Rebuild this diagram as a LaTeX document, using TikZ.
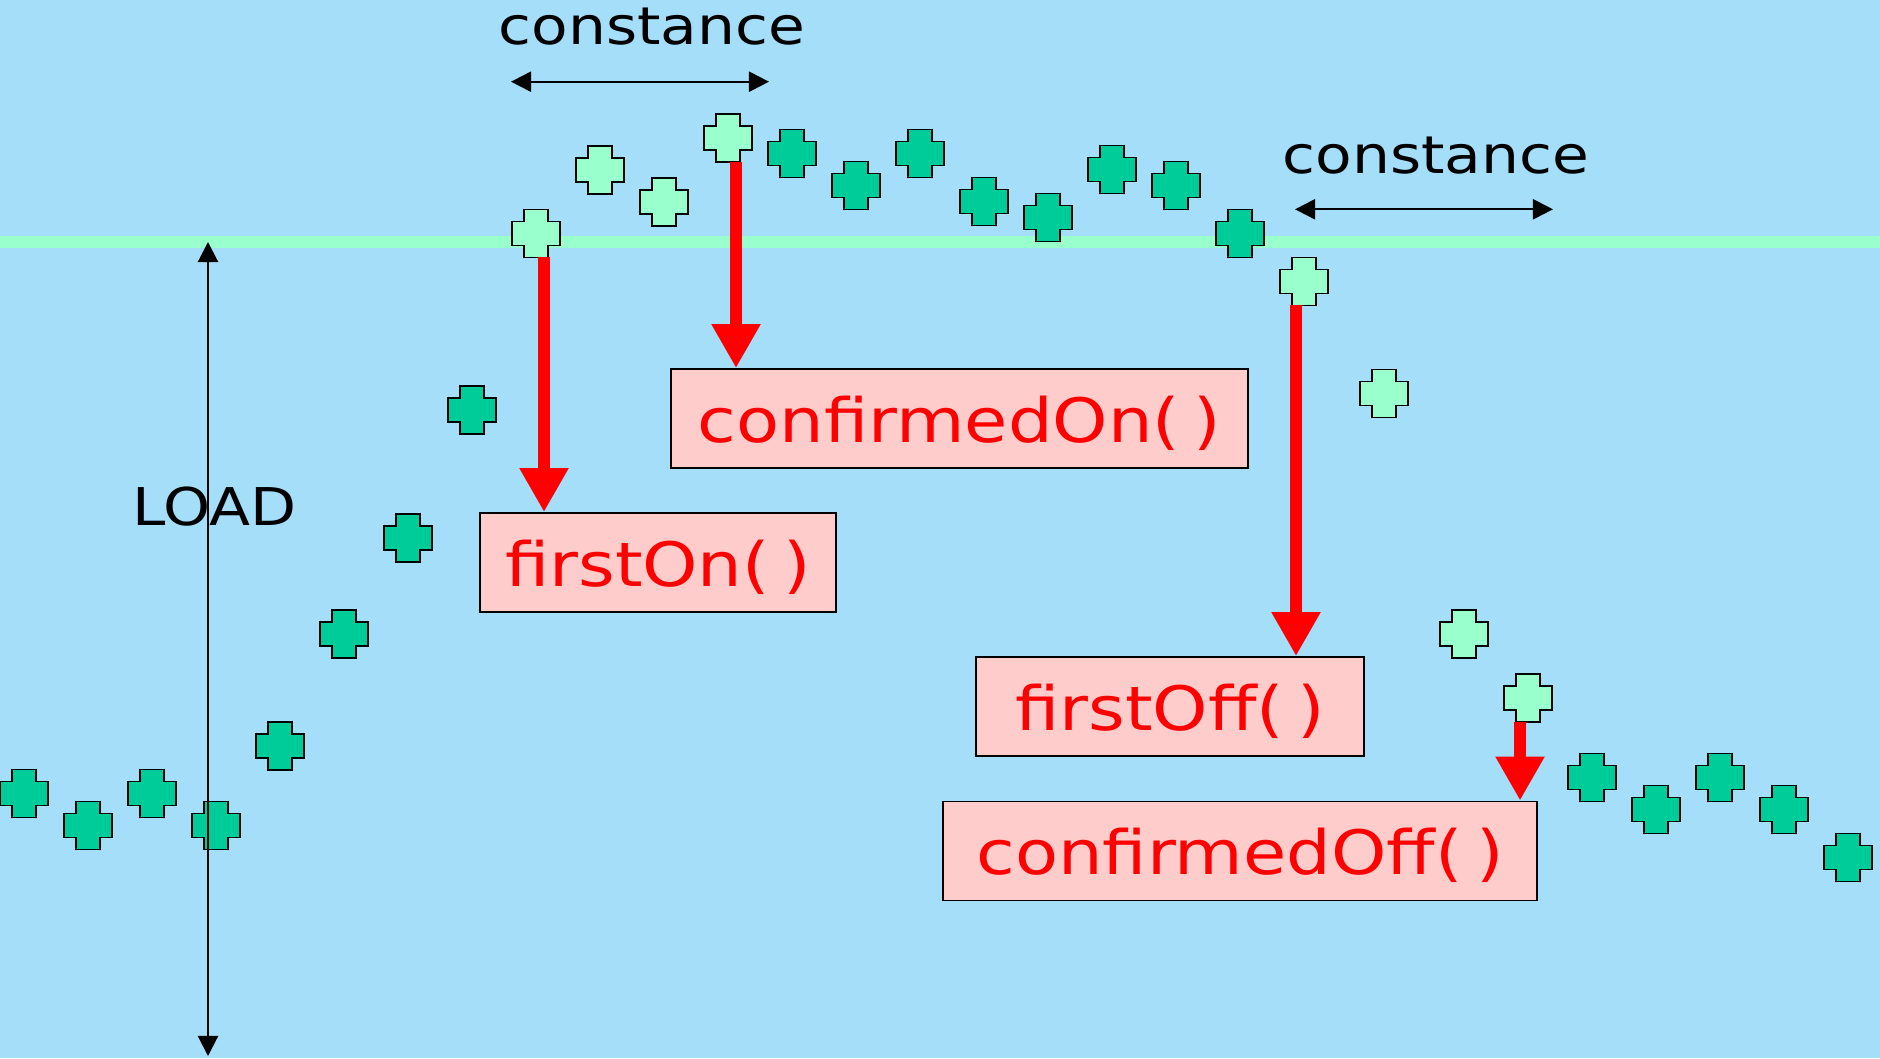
\documentclass[tikz,border=0pt]{standalone}
\usepackage{fontspec}
\setmainfont{DejaVu Sans}[FakeStretch=1.15,WordSpace=0.6]
\usepackage{tikz}
\usetikzlibrary{arrows.meta}

\definecolor{slide}{HTML}{A4DEF9}
\definecolor{mint}{HTML}{99FFCC}
\definecolor{jade}{HTML}{00CC99}
\definecolor{blush}{HTML}{FFCCCC}

\tikzset{
  pics/sample/.style={code={
    \draw[pic actions] (-12,-24) -- (12,-24) -- (12,-12) -- (24,-12) -- (24,12)
      -- (12,12) -- (12,24) -- (-12,24) -- (-12,12) -- (-24,12) -- (-24,-12)
      -- (-12,-12) -- cycle;}}
}

\begin{document}
\begin{tikzpicture}[x=0.01cm, y=-0.01cm,
  plain/.style={fill=jade, draw=black, line width=0.55pt},
  marked/.style={fill=mint, draw=black, line width=0.55pt},
  call/.style={draw=black, line width=0.5pt, fill=blush, text=red, minimum height=0.99cm,
    inner sep=0pt, text height=15.7pt, font=\fontsize{17.4}{21}\selectfont},
  lab/.style={font=\fontsize{14.8}{18}\selectfont, anchor=base, inner sep=0pt},
  arr/.style={{Triangle[width=5.7pt,length=5.7pt]}-{Triangle[width=5.7pt,length=5.7pt]}, line width=0.6pt},
  fire/.style={-{Triangle[width=13.1pt,length=12.5pt]}, red, line width=3.4pt}
]
% slide and threshold band
\fill[slide] (0,0) rectangle (1880,1058);
\useasboundingbox (0,0) rectangle (1880,1058);
\fill[mint] (0,236) rectangle (1880,248);

% load samples
\foreach \i/\px/\py/\kind in {1/24/793.5/plain, 2/88/825.5/plain, 3/152/793.5/plain,
  4/216/825.5/plain, 5/280/746/plain, 6/344/634/plain, 7/408/538/plain, 8/472/410/plain,
  9/536/233.5/marked, 10/600/170/marked, 11/664/202/marked, 12/728/138/marked,
  13/792/153.5/plain, 14/856/185.5/plain, 15/920/153.5/plain, 16/984/201.5/plain,
  17/1048/217.5/plain, 18/1112/169.5/plain, 19/1176/185.5/plain, 20/1240/233.5/plain,
  21/1304/281.5/marked, 22/1384/393.5/marked, 23/1464/634/marked, 24/1528/698/marked,
  25/1592/777.5/plain, 26/1656/809.5/plain, 27/1720/777.5/plain, 28/1784/809.5/plain,
  29/1848/857.5/plain}{
  \coordinate (p\i) at (\px,\py);
  \pic[\kind] at (p\i) {sample};
}

% event boxes
\node[call, minimum width=3.56cm] (firstOn) at (658,562.5) {firstOn( )};
\node[call, minimum width=5.77cm] (confirmedOn) at (959.5,418.5) {confirmedOn( )};
\node[call, minimum width=3.88cm] (firstOff) at (1170,706.5) {firstOff( )};
\node[call, minimum width=5.94cm] (confirmedOff) at (1240,851) {confirmedOff( )};

% detection arrows
\coordinate (s9) at ([shift={(8,24)}]p9);
\coordinate (s12) at ([shift={(8,24)}]p12);
\coordinate (s21) at ([shift={(-8,24)}]p21);
\coordinate (s24) at ([shift={(-8,24)}]p24);
\draw[fire] (s9) -- (s9 |- firstOn.north);
\draw[fire] (s12) -- (s12 |- confirmedOn.north);
\draw[fire] (s21) -- (s21 |- firstOff.north);
\draw[fire] (s24) -- (s24 |- confirmedOff.north);

% constance spans
\coordinate (k1) at (511,81.7);
\coordinate (k2) at (769,81.7);
\coordinate (k3) at (1295,209.3);
\coordinate (k4) at (1553,209.3);
\node[lab] (span1) at (652,45) {constance};
\node[lab] (span2) at (1436,173.3) {constance};
\draw[arr] (k1) -- (k2);
\draw[arr] (k3) -- (k4);

% load axis
\coordinate (ax1) at (208,242);
\coordinate (ax2) at (208,1056);
\node[lab] (load) at (214.7,525) {LOAD};
\draw[arr] (ax1) -- (ax2);
\end{tikzpicture}
\end{document}
